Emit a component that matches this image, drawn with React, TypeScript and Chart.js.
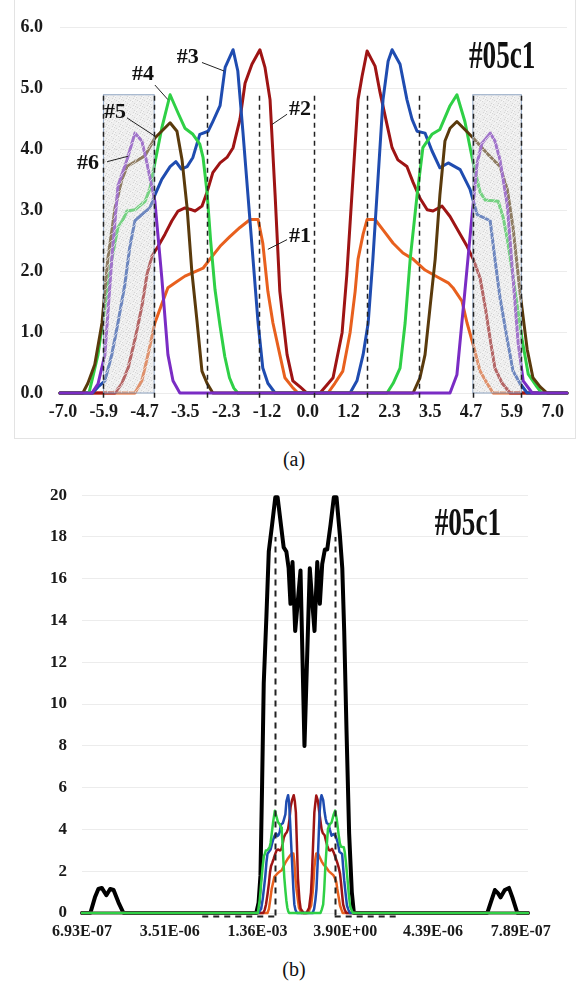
import React, { useEffect, useRef } from "react";
import { Chart, registerables } from "chart.js";
Chart.register(...registerables);

type P = [number, number];

// ---------- tick labels ----------
const X_TICK_LABELS_A = ["-7.0", "-5.9", "-4.7", "-3.5", "-2.3", "-1.2", "0.0", "1.2", "2.3", "3.5", "4.7", "5.9", "7.0"];
const X_TICK_LABELS_B = ["6.93E-07", "3.51E-06", "1.36E-03", "3.90E+00", "4.39E-06", "7.89E-07"];
const A_TICK_FIRST = -6.92;
const A_TICK_STEP = 1.127;
const B_TICK_FIRST = -29.3;
const B_TICK_STEP = 11.53;

const X_RANGE_A: P = [-7, 7];
const X_RANGE_B: P = [-29.3, 29.3];
const Y_RANGE_A: P = [0, 6];
const Y_RANGE_B: P = [0, 20];

// ---------- series (x, value) ----------
const S1: P[] = [[-7, 0], [-4.93, 0], [-4.74, 0.2], [-4.57, 0.63], [-4.38, 1.15], [-4.19, 1.46], [-4.02, 1.73], [-3.77, 1.83], [-3.55, 1.92], [-3.36, 1.97], [-3.05, 2.05], [-2.86, 2.2], [-2.58, 2.41], [-2.31, 2.57], [-2.03, 2.72], [-1.75, 2.85], [-1.53, 2.85], [-1.4, 2.46], [-1.26, 1.67], [-1.12, 1.15], [-0.93, 0.63], [-0.79, 0.25], [-0.59, 0.1], [-0.43, 0],
  [0.4, 0], [0.59, 0.16], [0.81, 0.36], [1.01, 0.99], [1.15, 1.67], [1.23, 2.2], [1.37, 2.61], [1.48, 2.85], [1.7, 2.85], [1.92, 2.68], [2.2, 2.46], [2.47, 2.3], [2.75, 2.2], [3.08, 2.02], [3.41, 1.91], [3.72, 1.81], [3.85, 1.73], [4.1, 1.51], [4.24, 1.15], [4.41, 0.79], [4.6, 0.36], [4.79, 0.16], [4.96, 0], [7, 0]];

const S2: P[] = [[-7, 0], [-5.48, 0], [-5.29, 0.16], [-5.12, 0.41], [-4.93, 0.88], [-4.74, 1.42], [-4.6, 1.94], [-4.46, 2.25], [-4.29, 2.41], [-4.1, 2.61], [-3.91, 2.83], [-3.74, 2.99], [-3.55, 3.04], [-3.36, 3.01], [-3.27, 2.99], [-3.08, 3.07], [-2.94, 3.3], [-2.78, 3.62], [-2.58, 3.78], [-2.39, 3.87], [-2.22, 4.03], [-2.03, 4.5], [-1.89, 5.09], [-1.7, 5.4], [-1.48, 5.64], [-1.34, 5.35], [-1.2, 4.82], [-1.06, 3.25], [-0.93, 1.67], [-0.73, 0.63], [-0.57, 0.2], [-0.37, 0.1], [-0.18, 0],
  [0.18, 0], [0.37, 0.13], [0.54, 0.25], [0.79, 0.99], [0.92, 1.94], [1.06, 3.25], [1.23, 4.82], [1.34, 5.2], [1.48, 5.62], [1.7, 5.37], [1.84, 4.93], [2.03, 4.41], [2.17, 4.03], [2.33, 3.83], [2.58, 3.72], [2.75, 3.46], [2.94, 3.2], [3.14, 3.01], [3.3, 2.99], [3.55, 3.07], [3.77, 2.9], [4.05, 2.61], [4.24, 2.41], [4.41, 2.2], [4.6, 1.89], [4.74, 1.42], [4.88, 0.88], [5.01, 0.41], [5.21, 0.16], [5.43, 0], [7, 0]];

const S3: P[] = [[-7, 0], [-6.1, 0], [-5.95, 0.1], [-5.76, 0.2], [-5.57, 0.63], [-5.4, 1.15], [-5.21, 1.78], [-5.07, 2.41], [-4.93, 2.83], [-4.74, 2.93], [-4.52, 3.04], [-4.38, 3.25], [-4.19, 3.51], [-3.96, 3.72], [-3.8, 3.8], [-3.65, 3.68], [-3.49, 3.72], [-3.33, 3.87], [-3.14, 4.25], [-2.91, 4.3], [-2.78, 4.46], [-2.58, 4.72], [-2.44, 5.35], [-2.22, 5.64], [-2.09, 5.29], [-1.95, 4.3], [-1.81, 3.25], [-1.67, 2.2], [-1.53, 1.15], [-1.4, 0.41], [-1.26, 0.16], [-1.06, 0],
  [1.01, 0], [1.2, 0.2], [1.37, 0.63], [1.51, 1.15], [1.64, 2.2], [1.78, 3.51], [1.92, 4.82], [2.06, 5.45], [2.17, 5.64], [2.39, 5.4], [2.58, 4.82], [2.72, 4.5], [2.86, 4.3], [3.08, 4.27], [3.27, 3.98], [3.49, 3.7], [3.72, 3.78], [4.05, 3.67], [4.32, 3.35], [4.52, 2.93], [4.88, 2.83], [5.01, 2.2], [5.15, 1.57], [5.35, 0.88], [5.51, 0.36], [5.7, 0.16], [5.9, 0], [7, 0]];

const S4: P[] = [[-7, 0], [-6.2, 0], [-6.12, 0.2], [-5.95, 0.63], [-5.76, 1.42], [-5.57, 2.2], [-5.4, 2.72], [-5.26, 2.85], [-5.15, 2.99], [-4.93, 3.01], [-4.65, 3.15], [-4.52, 3.35], [-4.38, 3.78], [-4.19, 4.35], [-3.96, 4.9], [-3.74, 4.6], [-3.55, 4.35], [-3.33, 4.25], [-3.14, 4.09], [-3.05, 3.87], [-2.94, 3.3], [-2.84, 2.5], [-2.72, 1.7], [-2.58, 1.1], [-2.45, 0.6], [-2.32, 0.25], [-2.2, 0.08], [-2.09, 0],
  [2.03, 0], [2.2, 0.16], [2.39, 0.41], [2.53, 1.15], [2.67, 2.2], [2.86, 3.25], [3.02, 4.03], [3.27, 4.25], [3.49, 4.33], [3.77, 4.72], [3.96, 4.9], [4.18, 4.46], [4.41, 3.78], [4.6, 3.3], [4.74, 3.17], [5.1, 3.15], [5.24, 2.88], [5.37, 2.46], [5.57, 1.67], [5.76, 0.88], [5.93, 0.31], [6.17, 0.1], [6.3, 0], [7, 0]];

const S5: P[] = [[-7, 0], [-6.37, 0], [-6.23, 0.16], [-6.04, 0.47], [-5.84, 1.15], [-5.68, 2.2], [-5.48, 3.04], [-5.29, 3.51], [-5.15, 3.72], [-4.65, 3.9], [-4.38, 4.19], [-3.96, 4.44], [-3.77, 4.3], [-3.63, 3.83], [-3.49, 3.04], [-3.36, 2.0], [-3.22, 1.2], [-3.08, 0.36], [-2.94, 0.16], [-2.78, 0],
  [2.75, 0], [2.94, 0.25], [3.08, 0.63], [3.22, 1.42], [3.36, 2.2], [3.49, 3.25], [3.63, 4.14], [3.77, 4.35], [3.96, 4.46], [4.41, 4.19], [4.79, 3.94], [5.15, 3.72], [5.35, 3.35], [5.51, 2.72], [5.7, 1.67], [5.9, 0.72], [6.06, 0.25], [6.26, 0.1], [6.45, 0], [7, 0]];

const S6: P[] = [[-7, 0], [-6.12, 0], [-5.95, 0.15], [-5.76, 0.63], [-5.57, 2.2], [-5.4, 3.4], [-5.15, 3.83], [-4.93, 4.27], [-4.74, 4.14], [-4.6, 3.78], [-4.38, 3.15], [-4.19, 1.9], [-4.02, 0.63], [-3.88, 0.2], [-3.69, 0],
  [3.77, 0], [3.96, 0.3], [4.18, 1.67], [4.38, 2.93], [4.52, 3.78], [4.65, 4.1], [4.88, 4.27], [5.01, 4.14], [5.15, 3.83], [5.35, 3.09], [5.51, 1.89], [5.65, 0.83], [5.79, 0.2], [6.04, 0], [7, 0]];

const TOTAL_B: P[] = [[-29.3, 0], [-28.2, 0], [-27.6, 0.75], [-27.15, 1.15], [-26.7, 1.2], [-26.1, 0.85], [-25.6, 1.15], [-25.15, 1.1], [-24.5, 0.5], [-23.85, 0],
  [-6.4, 0], [-6.1, 0.5], [-5.85, 1.8], [-5.63, 6.3], [-5.42, 11], [-5.07, 14.2], [-4.76, 17.3], [-4.32, 18.6], [-3.9, 19.9], [-3.6, 19.9], [-3.0, 18.1], [-2.8, 17.5], [-2.45, 17.3], [-2.15, 16.5], [-1.91, 14.8], [-1.64, 16.8], [-1.29, 13.5], [-0.95, 14.9], [-0.59, 16.4], [-0.07, 8.0], [0.63, 16.5], [0.95, 14.9], [1.25, 13.5], [1.61, 16.8], [1.95, 14.8], [2.26, 16.7], [2.61, 17.4], [2.92, 17.4], [3.36, 18.6], [3.79, 19.9], [4.14, 19.9], [4.58, 18.1], [4.9, 16.5], [5.15, 13.5], [5.45, 8.8], [5.8, 3.8], [6.15, 1.0], [6.42, 0],
  [23.95, 0], [24.4, 0.5], [24.95, 1.1], [25.35, 0.95], [25.7, 0.75], [26.25, 1.1], [26.8, 1.2], [27.25, 0.75], [27.9, 0], [29.3, 0]];

// ---------- guides ----------
const DASH_X_A = [-5.8, -4.4, -2.94, -1.5, 0, 1.48, 2.92, 4.4, 5.74];
const DASH_Y_A: P = [-0.08, 4.9];
const BOXES_A: P[] = [[-5.8, -4.4], [4.4, 5.74]];
const BOX_Y_A: P = [0, 4.9];
const DASH_X_B = [-3.95, 3.9];
const DASH_Y_B: P = [-0.12, 18];
const DASH_H_B: P[] = [[-13.5, -3.95], [3.9, 12.2]];
const DASH_H_Y_B = -0.12;

// label, text x, text y, leader from x,y to x,y
const LABELS_A: [string, number, number, number, number, number, number][] = [
  ["#3", -3.47, 5.51, -3.08, 5.43, -2.47, 5.29],
  ["#4", -4.71, 5.24, -4.38, 5.06, -4.02, 4.82],
  ["#5", -5.48, 4.61, -5.15, 4.52, -4.38, 4.22],
  ["#6", -6.23, 3.78, -5.7, 3.8, -5.12, 3.89],
  ["#2", -0.37, 4.66, -0.73, 4.58, -1.15, 4.41],
  ["#1", -0.37, 2.57, -0.73, 2.52, -1.26, 2.36],
];
const TITLE = "#05c1";
const TITLE_POS_A: P = [5.21, 5.51];
const TITLE_POS_B: P = [21.4, 18.6];

const ORANGE = "#e8601e";
const RED = "#9e1414";
const BLUE = "#1f4cb0";
const GREEN = "#2fd046";
const BROWN = "#5a3a0c";
const PURPLE = "#7a2cc4";

const SERIF = "'Liberation Serif', 'Times New Roman', serif";
const TICK_FONT = { family: SERIF, weight: "bold" as const, size: 18 };

function makePattern(ctx: CanvasRenderingContext2D) {
  const c = document.createElement("canvas");
  c.width = 7;
  c.height = 7;
  const g = c.getContext("2d")!;
  g.fillStyle = "rgba(215,215,215,0.42)";
  g.fillRect(0, 0, 7, 7);
  for (let i = 0; i < 49; i++) {
    const px = i % 7, py = Math.floor(i / 7);
    if ((i * 5 + 2) % 6 === 0) { g.fillStyle = "rgba(255,255,255,0.55)"; g.fillRect(px, py, 1, 1); }
    else if ((i * 11) % 9 === 0) { g.fillStyle = "rgba(170,170,170,0.35)"; g.fillRect(px, py, 1, 1); }
  }
  return ctx.createPattern(c, "repeat");
}

function drawTitle(ctx: CanvasRenderingContext2D, px: number, py: number) {
  ctx.save();
  ctx.translate(px, py);
  ctx.scale(0.68, 1);
  ctx.font = `bold 40px ${SERIF}`;
  ctx.fillStyle = "#111";
  ctx.textAlign = "center";
  ctx.textBaseline = "middle";
  ctx.fillText(TITLE, 0, 0);
  ctx.restore();
}

function dashV(ctx: CanvasRenderingContext2D, x: any, y: any, v: number, y0: number, y1: number) {
  const px = Math.round(x.getPixelForValue(v)) + 0.5;
  ctx.beginPath();
  ctx.moveTo(px, y.getPixelForValue(y0));
  ctx.lineTo(px, y.getPixelForValue(y1));
  ctx.stroke();
}

const overlayA = {
  id: "overlayA",
  afterDatasetsDraw(chart: any) {
    const { ctx, scales } = chart;
    const x = scales.x, y = scales.y;
    ctx.save();
    const pat = makePattern(ctx);
    for (const [x0, x1] of BOXES_A) {
      const l = x.getPixelForValue(x0), r = x.getPixelForValue(x1);
      const t = y.getPixelForValue(BOX_Y_A[1]), b = y.getPixelForValue(BOX_Y_A[0]);
      ctx.fillStyle = pat || "rgba(210,210,210,0.4)";
      ctx.fillRect(l, t, r - l, b - t);
      ctx.strokeStyle = "#8fa5c2";
      ctx.lineWidth = 1;
      ctx.strokeRect(l, t, r - l, b - t);
    }
    ctx.strokeStyle = "#222";
    ctx.lineWidth = 1.5;
    ctx.setLineDash([5, 4]);
    for (const v of DASH_X_A) dashV(ctx, x, y, v, DASH_Y_A[0], DASH_Y_A[1]);
    ctx.setLineDash([]);
    ctx.lineWidth = 1;
    ctx.strokeStyle = "#222";
    ctx.fillStyle = "#111";
    ctx.font = `bold 22px ${SERIF}`;
    ctx.textAlign = "center";
    ctx.textBaseline = "middle";
    for (const [txt, tx, ty, ax, ay, bx, by] of LABELS_A) {
      ctx.beginPath();
      ctx.moveTo(x.getPixelForValue(ax), y.getPixelForValue(ay));
      ctx.lineTo(x.getPixelForValue(bx), y.getPixelForValue(by));
      ctx.stroke();
      ctx.fillText(txt, x.getPixelForValue(tx), y.getPixelForValue(ty));
    }
    drawTitle(ctx, x.getPixelForValue(TITLE_POS_A[0]), y.getPixelForValue(TITLE_POS_A[1]));
    ctx.restore();
  },
};

const overlayB = {
  id: "overlayB",
  afterDatasetsDraw(chart: any) {
    const { ctx, scales } = chart;
    const x = scales.x, y = scales.y;
    ctx.save();
    ctx.strokeStyle = "#222";
    ctx.lineWidth = 2;
    ctx.setLineDash([6, 5]);
    for (const v of DASH_X_B) dashV(ctx, x, y, v, DASH_Y_B[0], DASH_Y_B[1]);
    const hy = Math.round(y.getPixelForValue(DASH_H_Y_B)) + 0.5;
    for (const [a, b] of DASH_H_B) {
      ctx.beginPath();
      ctx.moveTo(x.getPixelForValue(a), hy);
      ctx.lineTo(x.getPixelForValue(b), hy);
      ctx.stroke();
    }
    ctx.setLineDash([]);
    drawTitle(ctx, x.getPixelForValue(TITLE_POS_B[0]), y.getPixelForValue(TITLE_POS_B[1]));
    ctx.restore();
  },
};

function line(label: string, data: P[], color: string, width: number) {
  return {
    label,
    data,
    borderColor: color,
    backgroundColor: color,
    borderWidth: width,
    pointRadius: 0,
    tension: 0,
    fill: false,
    borderJoinStyle: "round" as const,
    borderCapStyle: "round" as const,
    clip: false as const,
  };
}

function withBase(data: P[]): P[] {
  return [[X_RANGE_B[0], 0], ...data, [X_RANGE_B[1], 0]];
}

export default function App() {
  const refA = useRef<HTMLCanvasElement>(null);
  const refB = useRef<HTMLCanvasElement>(null);

  useEffect(() => {
    const common = {
      animation: false as const,
      responsive: false,
      devicePixelRatio: 1,
      plugins: { legend: { display: false }, tooltip: { enabled: false } },
    };
    const chartA = new Chart(refA.current!, {
      type: "line",
      data: {
        datasets: [
          line("#6", S6, PURPLE, 3),
          line("#5", S5, BROWN, 3),
          line("#4", S4, GREEN, 3),
          line("#3", S3, BLUE, 3),
          line("#2", S2, RED, 3),
          line("#1", S1, ORANGE, 3),
        ] as any,
      },
      options: {
        ...common,
        layout: { padding: { top: 12, right: 16, left: 0, bottom: 0 } },
        scales: {
          x: {
            type: "linear",
            min: X_RANGE_A[0],
            max: X_RANGE_A[1],
            grid: { display: false, drawTicks: false },
            border: { display: false },
            afterBuildTicks: (s: any) => {
              s.ticks = X_TICK_LABELS_A.map((_, i) => ({ value: A_TICK_FIRST + i * A_TICK_STEP }));
            },
            afterFit: (s: any) => { s.height = 47; },
            ticks: {
              autoSkip: false,
              maxRotation: 0,
              padding: 9,
              color: "#1a1a1a",
              font: TICK_FONT,
              callback: (_v: any, i: number) => X_TICK_LABELS_A[i],
            },
          },
          y: {
            min: Y_RANGE_A[0],
            max: Y_RANGE_A[1],
            afterFit: (s: any) => { s.width = 60; },
            grid: { color: "#ececec", drawTicks: false },
            border: { display: false },
            ticks: {
              stepSize: 1,
              padding: 17,
              color: "#1a1a1a",
              font: TICK_FONT,
              callback: (v: any) => Number(v).toFixed(1),
            },
          },
        },
      } as any,
      plugins: [overlayA],
    });

    const chartB = new Chart(refB.current!, {
      type: "line",
      data: {
        datasets: [
          line("#4", withBase(S4), GREEN, 2.5),
          line("#3", withBase(S3), BLUE, 2.5),
          line("#2", withBase(S2), RED, 2.5),
          line("#1", withBase(S1), ORANGE, 2.5),
          line("total", TOTAL_B, "#000", 4),
        ] as any,
      },
      options: {
        ...common,
        layout: { padding: { top: 20, right: 55, left: 0, bottom: 0 } },
        scales: {
          x: {
            type: "linear",
            min: X_RANGE_B[0],
            max: X_RANGE_B[1],
            grid: { display: false, drawTicks: false },
            border: { display: false },
            afterBuildTicks: (s: any) => {
              s.ticks = X_TICK_LABELS_B.map((_, i) => ({ value: B_TICK_FIRST + i * B_TICK_STEP }));
            },
            afterFit: (s: any) => { s.height = 37; },
            ticks: {
              autoSkip: false,
              maxRotation: 0,
              padding: 9,
              color: "#1a1a1a",
              font: { family: SERIF, weight: "bold", size: 16 },
              callback: (_v: any, i: number) => X_TICK_LABELS_B[i],
            },
          },
          y: {
            min: Y_RANGE_B[0],
            max: Y_RANGE_B[1],
            afterFit: (s: any) => { s.width = 82; },
            grid: { color: "#ececec", drawTicks: false },
            border: { display: false },
            ticks: {
              stepSize: 2,
              padding: 15,
              color: "#1a1a1a",
              font: { family: SERIF, weight: "bold", size: 17 },
            },
          },
        },
      } as any,
      plugins: [overlayB],
    });

    return () => {
      chartA.destroy();
      chartB.destroy();
    };
  }, []);

  const caption: React.CSSProperties = {
    position: "absolute",
    left: 0,
    width: 588,
    textAlign: "center",
    fontFamily: SERIF,
    fontSize: 20,
    color: "#111",
    lineHeight: "22px",
  };

  return (
    <div style={{ position: "absolute", left: 0, top: 0, width: 583, height: 985, background: "#fff", overflow: "hidden" }}>
      <div style={{ position: "absolute", left: 14, top: -1, width: 562, height: 440, border: "1px solid #e3e3e3", boxSizing: "border-box" }} />
      <canvas ref={refA} width={583} height={440} style={{ position: "absolute", left: 0, top: 0, width: 583, height: 440 }} />
      <div style={{ ...caption, top: 448 }}>(a)</div>
      <canvas ref={refB} width={583} height={480} style={{ position: "absolute", left: 0, top: 470, width: 583, height: 480 }} />
      <div style={{ ...caption, top: 958 }}>(b)</div>
    </div>
  );
}
